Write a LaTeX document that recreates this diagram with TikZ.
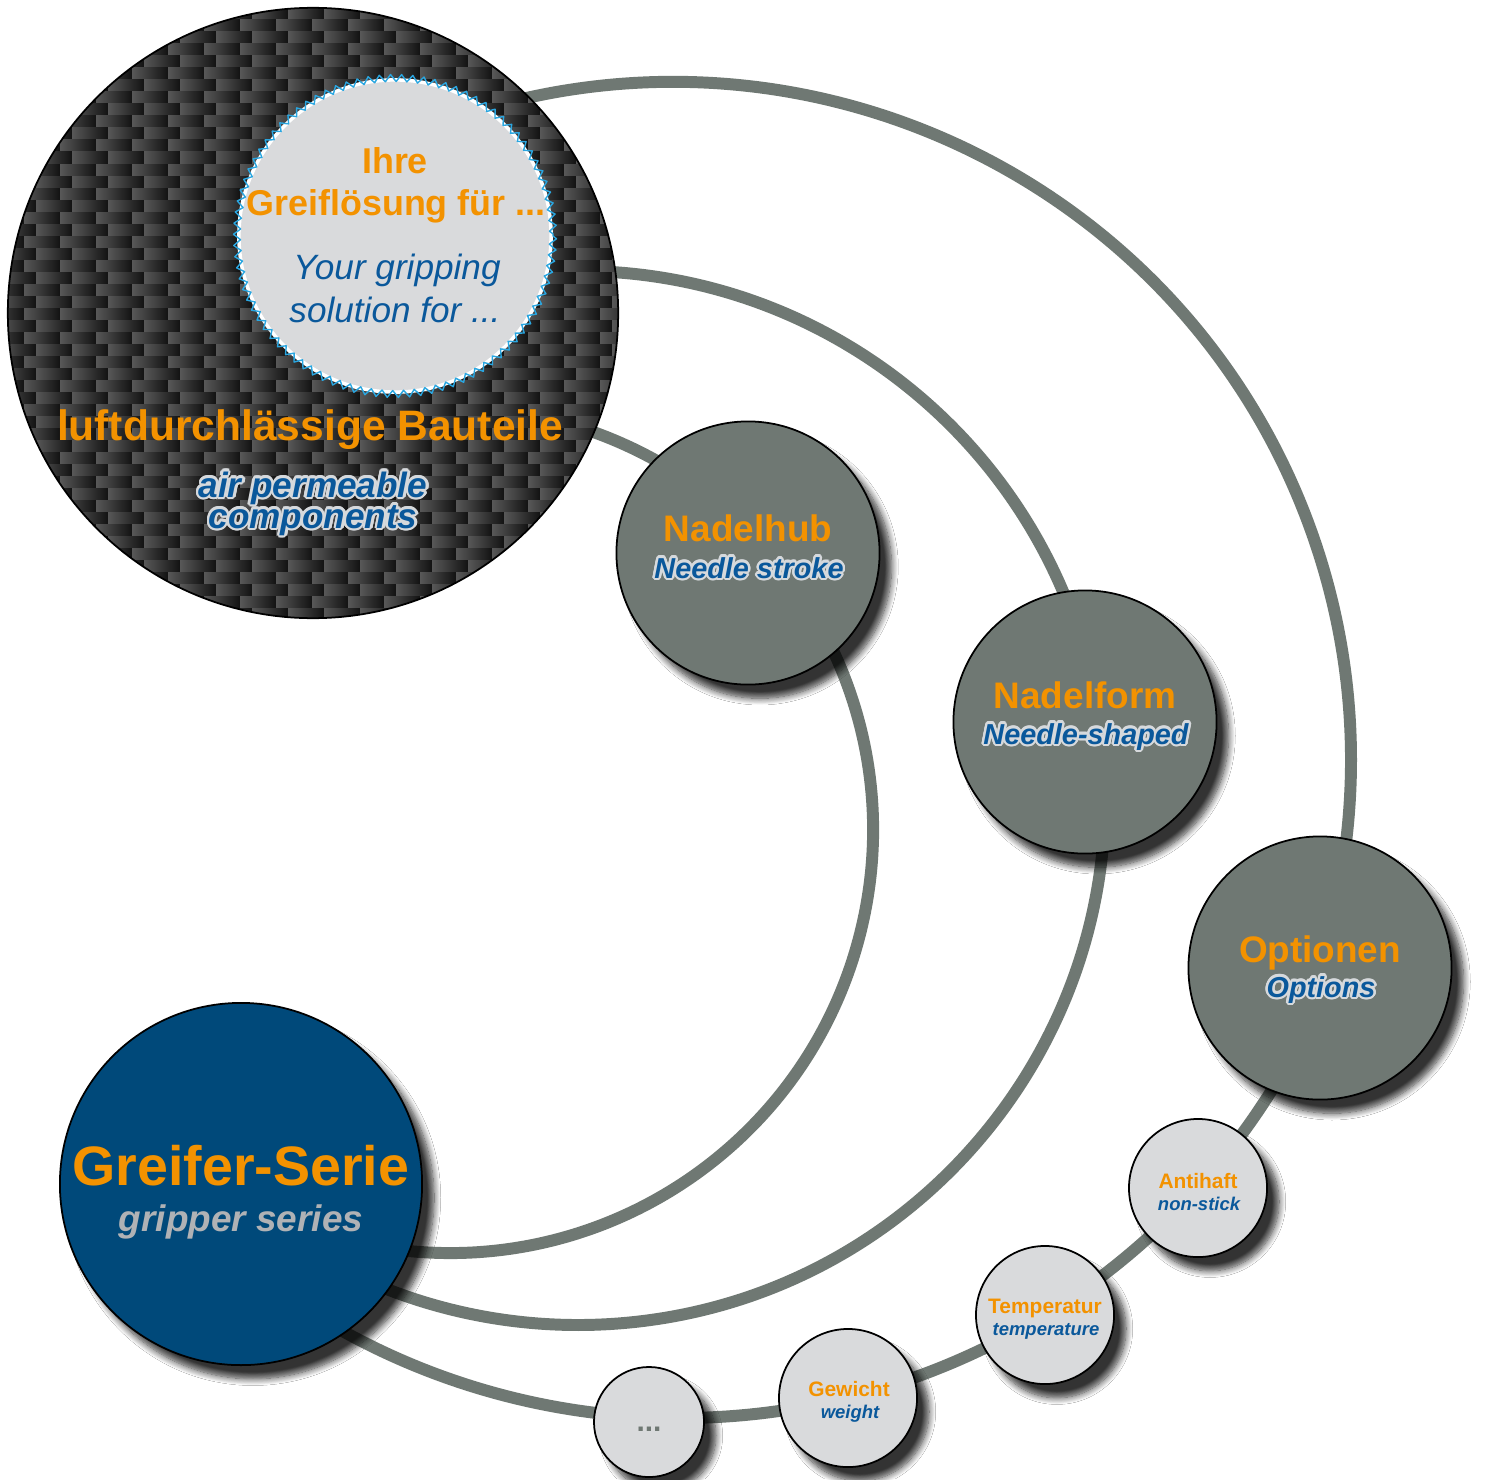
\documentclass[tikz,border=0pt]{standalone}
\usepackage{fontspec}
\setmainfont{Liberation Sans}
\usepackage{contour}
\contourlength{0.7pt}
\usetikzlibrary{shadows.blur,decorations.pathmorphing}
\definecolor{orng}{RGB}{243,146,0}
\definecolor{tblue}{RGB}{10,88,155}
\definecolor{navy}{RGB}{0,73,122}
\definecolor{stone}{RGB}{111,120,115}
\definecolor{pale}{RGB}{217,218,220}
\definecolor{halo}{RGB}{214,217,220}
\definecolor{mist}{RGB}{176,178,181}
\definecolor{sky}{RGB}{42,166,224}
\definecolor{fibrelt}{RGB}{88,88,88}
\definecolor{fibredk}{RGB}{18,18,18}
\newcommand\fs[1]{\fontsize{#1}{#1}\selectfont}
\begin{document}
\begin{tikzpicture}[x=0.01cm, y=-0.01cm, line join=round, line cap=round]
		\tikzset{link/.style={draw=stone, line width=3.4pt},
			bubble/.style={circle, draw=black, line width=0.5pt, inner sep=0pt,
				blur shadow={shadow xshift=3.4pt, shadow yshift=-3.9pt, shadow blur radius=1.9pt, shadow blur steps=10, shadow opacity=80}},
			big/.style={bubble, fill=stone, minimum size=2.63cm},
			small/.style={bubble, fill=pale, minimum size=1.38cm},
			head/.style={anchor=base, text=orng, font=\bfseries\fs{10.5}},
			sub/.style={anchor=base, text=tblue, font=\bfseries\itshape\fs{8.2}},
			tinyhead/.style={anchor=base, text=orng, font=\bfseries\fs{5.95}},
			tinysub/.style={anchor=base, text=tblue, font=\bfseries\itshape\fs{5.25}}}
		\def \cw{36}\def \ch{12}
		\useasboundingbox (0,0) rectangle (1486,1479);
		\fill[white] (0,0) rectangle (1486,1479);
		\coordinate (c1) at (673,760);
		\coordinate (c2) at (578,798);
		\coordinate (c3) at (450,830);
		\coordinate (c4) at (680,720);
		\draw[link] ([shift={(-108:678)}]c1) arc[start angle=-108, end angle=15, radius=678];
		\draw[link] ([shift={(-95:527)}]c2) arc[start angle=-95, end angle=120, radius=527];
		\draw[link] ([shift={(-75:423)}]c3) arc[start angle=-75, end angle=100, radius=423];
		\draw[link] ([shift={(125:698)}]c4) arc[start angle=125, end angle=28, radius=698];
		\begin{scope}
			\clip (313,313) circle (305);
			\fill[fibredk] (0,0) rectangle (630,630);
			\foreach \r in {0,...,51}{
				\pgfmathsetmacro\off{mod(\r,2)*12}
				\foreach \c in {0,...,18}
				\shade[left color=fibrelt, right color=fibredk] ({\c*\cw-\off},{8+\r*\ch}) rectangle +(\cw,\ch);
			}
		\end{scope}
		\node[circle, draw, line width=0.5pt, minimum size=6.1cm, inner sep=0pt] (cb) at (313,313) {};
		\node[circle, fill=pale, draw=white, line width=1pt, minimum size=3.12cm, inner sep=0pt] (ic) at (395,236) {};
		\draw[sky, line width=0.4pt, decorate, decoration={zigzag, segment length=0.11cm, amplitude=0.035cm}] (ic.center) circle (158);
		\node[anchor=base, text=orng, font=\bfseries\fs{10.2}] (ihre) at (395,173) {Ihre};
		\node[anchor=base, text=orng, font=\bfseries\fs{10.2}] (grl) at (396,215) {Greiflösung für ...};
		\node[anchor=base, text=tblue, font=\itshape\fs{10}] (ygr) at (397,279) {Your gripping};
		\node[anchor=base, text=tblue, font=\itshape\fs{10}] (sol) at (395,322) {solution for ...};
		\node[anchor=base, text=orng, font=\bfseries\fs{12.1}] (luft) at (310,440) {luftdurchlässige Bauteile};
		\node[sub, font=\bfseries\itshape\fs{10}] (air) at (313,497) {\contour{halo}{air permeable}};
		\node[sub, font=\bfseries\itshape\fs{10}] (comp) at (313,528) {\contour{halo}{components}};
		\node[big] (nh) at (748,553) {};
		\node[big] (nf) at (1085,722) {};
		\node[big] (op) at (1320,968) {};
		\node[bubble, fill=navy, minimum size=3.62cm] (gs) at (241,1184) {};
		\node[small] (ah) at (1198,1188) {};
		\node[small] (tp) at (1045,1315) {};
		\node[small] (gw) at (848,1398) {};
		\node[small, minimum size=1.1cm] (mo) at (649,1422) {};
		\node[head] (nht) at (748,541) {Nadelhub};
		\node[sub] (nhs) at (749,578) {\contour{halo}{Needle stroke}};
		\node[head] (nft) at (1085,708) {Nadelform};
		\node[sub] (nfs) at (1086,744) {\contour{halo}{Needle-shaped}};
		\node[head] (opt) at (1320,962) {Optionen};
		\node[sub] (ops) at (1321,997) {\contour{halo}{Options}};
		\node[anchor=base, text=orng, font=\bfseries\fs{15.8}] (gst) at (241,1185) {Greifer-Serie};
		\node[anchor=base, text=mist, font=\bfseries\itshape\fs{10.5}] (gss) at (241,1231) {gripper series};
		\node[tinyhead] (aht) at (1198,1188) {Antihaft};
		\node[tinysub] (ahs) at (1199,1210) {non-stick};
		\node[tinyhead] (tpt) at (1045,1313) {Temperatur};
		\node[tinysub] (tps) at (1046,1335) {temperature};
		\node[tinyhead] (gwt) at (849,1396) {Gewicht};
		\node[tinysub] (gws) at (850,1418) {weight};
		\node[anchor=base, text=stone, font=\bfseries\fs{8.5}] (mot) at (649,1431) {...};
\end{tikzpicture}
\end{document}
